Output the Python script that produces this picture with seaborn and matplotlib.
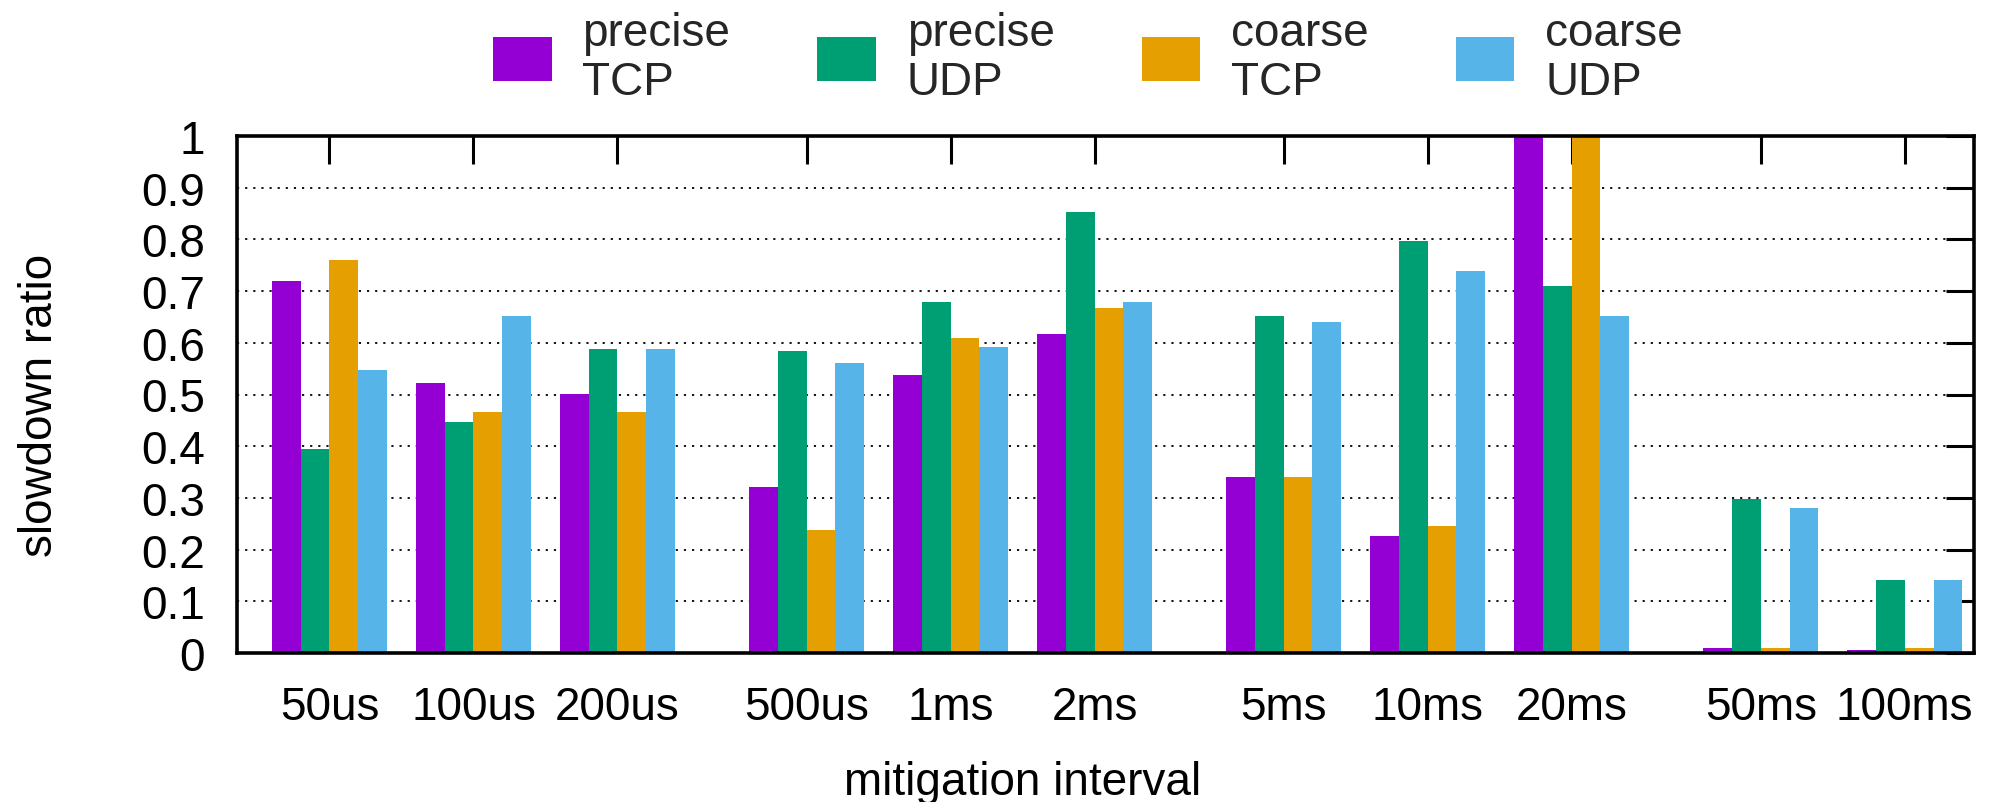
import pandas as pd
import matplotlib
matplotlib.use("Agg")
import matplotlib.pyplot as plt
import numpy as np
import seaborn as sns

# Mitigation intervals (x categories) and the four measured series
intervals = ["50us", "100us", "200us", "500us", "1ms", "2ms",
             "5ms", "10ms", "20ms", "50ms", "100ms"]
series = ["precise TCP", "precise UDP", "coarse TCP", "coarse UDP"]

precise_tcp = [0.72, 0.523, 0.501, 0.322, 0.537, 0.617, 0.340, 0.226, 1.0, 0.009, 0.005]
precise_udp = [0.395, 0.447, 0.588, 0.584, 0.679, 0.853, 0.652, 0.797, 0.710, 0.297, 0.141]
coarse_tcp = [0.761, 0.466, 0.466, 0.238, 0.609, 0.668, 0.340, 0.246, 1.0, 0.009, 0.009]
coarse_udp = [0.547, 0.651, 0.588, 0.560, 0.592, 0.679, 0.640, 0.738, 0.652, 0.281, 0.141]

colors = ["#9400D3", "#009E73", "#E69F00", "#56B4E9"]

# Groups of three intervals are separated by a small extra gap
pos = [i + 0.313 * (i // 3) for i in range(len(intervals))]

rows = []
for name, vals in zip(series, [precise_tcp, precise_udp, coarse_tcp, coarse_udp]):
    for p, v in zip(pos, vals):
        rows.append({"pos": p, "series": name, "value": v})
df = pd.DataFrame(rows)

sns.set_theme(style="white")
plt.rcParams["font.family"] = ["Liberation Sans", "DejaVu Sans"]

fig = plt.figure(figsize=(20.02, 8.03), dpi=100)
ax = fig.add_axes([237 / 2002, 1 - 654 / 803, (1974 - 237) / 2002, (654 - 137) / 803])

sns.barplot(data=df, x="pos", y="value", hue="series", hue_order=series,
            palette=dict(zip(series, colors)), native_scale=True,
            errorbar=None, saturation=1, linewidth=0, width=0.8, ax=ax)

handles, labels = ax.get_legend_handles_labels()
ax.get_legend().remove()

ax.set_xlim(-0.642, 11.42)
ax.set_ylim(0, 1)
ax.set_xticks(pos, intervals)
yt = np.round(np.arange(0, 1.01, 0.1), 1)
ax.set_yticks(yt, [f"{v:g}" for v in yt])

ax.tick_params(axis="both", direction="in", length=20, width=2.2, top=True,
               right=True, labelsize=33, pad=23, colors="black")
for s in ax.spines.values():
    s.set_visible(True)
    s.set_color("black")
    s.set_linewidth(2.6)

ax.set_axisbelow(True)
ax.yaxis.grid(True, color="black", linestyle=(0, (1.2, 3.3)), linewidth=1.3)
ax.xaxis.grid(False)

ax.set_xlabel("mitigation interval", fontsize=33, color="black")
ax.set_ylabel("slowdown ratio", fontsize=33, color="black")
ax.xaxis.set_label_coords(0.4525, -0.207)
ax.yaxis.set_label_coords(-0.1007, 0.4816)

leg = fig.legend(handles, [l.replace(" ", "\n") for l in labels],
                 loc="upper left", bbox_to_anchor=(493 / 2002, 0.985),
                 ncol=4, frameon=False, fontsize=33, borderpad=0,
                 borderaxespad=0, handlelength=1.28, handleheight=1.13,
                 handletextpad=0.67, columnspacing=1.9)
for t in leg.get_texts():
    t.set_linespacing(1.15)

fig.savefig("out.png", dpi=100)
